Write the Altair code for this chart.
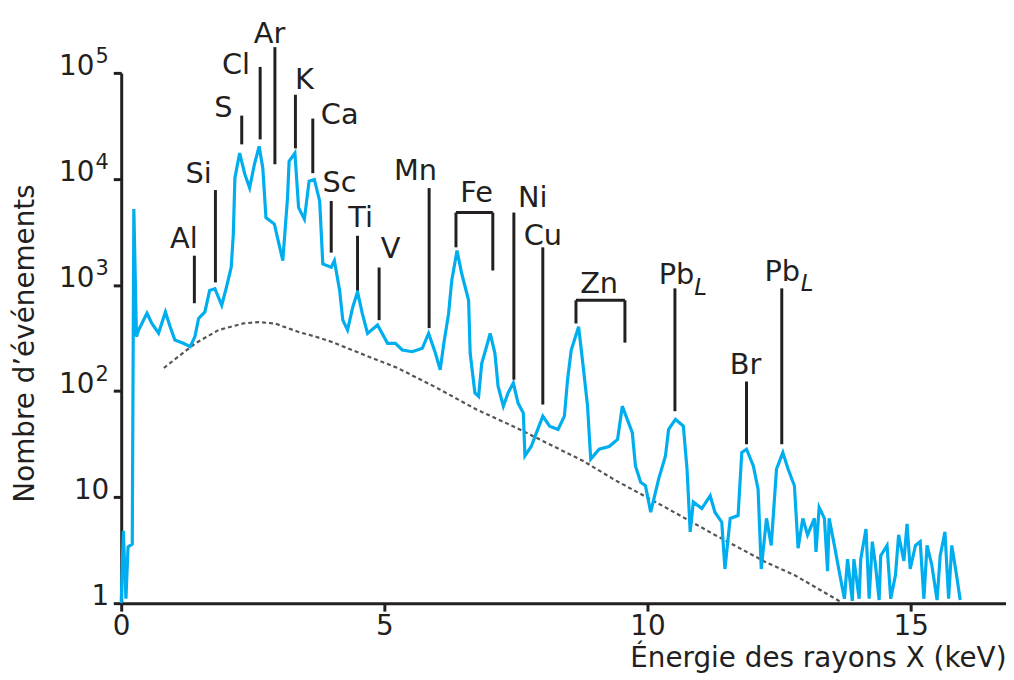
import altair as alt
import pandas as pd

# ---- spectrum (energy keV, counts) ----
spec_E = [0.00,0.04,0.09,0.13,0.21,0.24,0.29,0.33,0.49,0.58,0.71,0.84,0.93,1.02,1.18,1.31,1.40,1.47,1.59,1.68,
          1.78,1.91,2.00,2.09,2.13,2.16,2.25,2.35,2.44,2.53,2.62,2.69,2.75,2.91,3.07,3.16,3.19,3.30,3.37,3.48,
          3.57,3.67,3.77,3.83,3.99,4.05,4.15,4.21,4.30,4.40,4.49,4.58,4.68,4.87,5.06,5.21,5.34,5.53,5.72,5.84,
          5.97,6.06,6.13,6.22,6.28,6.38,6.47,6.60,6.63,6.72,6.79,6.85,6.94,7.01,7.10,7.16,7.26,7.35,7.45,7.54,
          7.64,7.67,7.79,7.89,8.01,8.14,8.30,8.42,8.48,8.55,8.69,8.77,8.86,8.92,9.08,9.27,9.43,9.52,9.71,9.77,
          9.87,9.96,10.06,10.21,10.34,10.40,10.53,10.68,10.75,10.81,10.87,11.03,11.19,11.28,11.41,11.47,11.57,
          11.72,11.79,11.88,12.01,12.10,12.16,12.26,12.35,12.45,12.57,12.67,12.79,12.86,12.95,13.04,13.17,13.20,
          13.26,13.36,13.42,13.45,13.55,13.64,13.74,13.80,13.89,13.92,14.02,14.05,14.15,14.21,14.27,14.33,14.40,
          14.43,14.55,14.62,14.71,14.77,14.87,14.93,14.99,15.09,15.18,15.25,15.31,15.40,15.50,15.56,15.65,15.72,
          15.78,15.87,15.94]
spec_c = [1.0,4.8,1.1,3.4,3.6,5200,325,376,542,437,352,557,404,303,282,262,325,484,557,890,
          923,644,956,1472,3020,10240,17550,11020,8260,13670,20280,12700,4320,3750,1700,6650,14680,17550,5360,4180,
          9530,9890,6200,1582,1472,1700,890,466,376,621,859,539,350,419,282,282,244,235,253,350,
          227,159,282,539,1104,2110,1276,718,227,96,89,183,262,350,227,111,72,96,119,77,
          62,24.5,30,40.5,58,46.7,43.5,58,128,244,404,183,72,22.8,28.3,30,35,72,40.5,19.7,
          13.8,12.8,7.2,14.8,24.5,43.5,54,46.7,18.4,4.7,9.0,7.8,10.3,7.2,5.8,2.1,6.3,
          6.7,26.3,28.3,19.7,11.9,2.1,6.3,3.5,18.4,26.3,18.4,12.8,3.3,6.3,4.4,6.3,3.05,
          8.0,6.3,2.0,6.3,3.5,2.0,1.1,2.6,1.05,2.6,1.1,2.6,5.0,1.1,3.8,2.3,1.07,
          2.8,3.5,1.1,1.84,4.4,2.5,5.6,2.1,3.5,3.8,1.1,3.5,2.3,1.07,2.8,4.7,1.1,
          3.5,1.84,1.07]

# ---- background (bremsstrahlung) curve ----
bg_E = [0.81,1.41,1.85,2.32,2.60,2.92,3.36,3.70,3.99,4.62,5.25,6.00,6.75,7.51,8.01,8.77,9.40,10.34,11.28,12.23,12.79,13.61,13.70]
bg_c = [165,282,376,434,447,434,362,325,292,219,165,107,67,45,33.8,22,14.3,8.0,4.4,2.46,1.84,1.07,1.0]

# ---- element labels ----
elem_labels = ["Al","Si","S","Cl","Ar","K","Ca","Sc","Ti","V","Mn","Fe","Ni","Cu","Zn","Br"]
elem_label_E = [1.19,1.47,1.94,2.18,2.82,3.48,4.15,4.15,4.55,5.12,5.59,6.75,7.82,8.01,9.08,11.86]
elem_label_c = [2730,11090,47000,118800,231900,85900,40450,9140,4295,2200,11830,7410,6650,2913,1028,177]

pb_E = [10.55, 12.56]
pb_c = [1230, 1312]
pbsub_E = [11.01, 13.03]
pbsub_c = [930, 1013]

# ---- element marker lines ----
line_E = [1.39,1.79,2.29,2.64,2.92,3.31,3.64,3.99,4.49,4.90,5.85,7.46,8.01,10.52,11.88,12.55]
line_top = [1890,7850,39550,113800,175000,62200,37070,6200,2913,1462,8200,4820,2265,930,123,930]
line_bot = [673,1057,21180,23600,13760,19420,11330,2020,890,466,392,128,74.6,64.6,31.5,31.5]

# ---- brackets (Fe, Zn) ----
br_left = [6.36, 8.64]
br_right = [7.06, 9.57]
br_top = [4820, 718]
br_left_bot = [2265, 434]
br_right_bot = [1370, 286]

# ---- y tick labels ----
ytick_plain = [1, 10]
ytick_plain_txt = ["1", "10"]
ytick_sup = [100, 1000, 10000, 100000]
ytick_sup_txt = ["2", "3", "4", "5"]

FONT = "DejaVu Sans"
INK = "#231f20"
BLUE = "#00AEEF"

spec = pd.DataFrame({"E": spec_E, "c": spec_c, "i": range(len(spec_E))})
bg = pd.DataFrame({"E": bg_E, "c": bg_c})
lab = pd.DataFrame({"t": elem_labels, "E": elem_label_E, "c": elem_label_c})
pb = pd.DataFrame({"t": ["Pb"] * 2, "E": pb_E, "c": pb_c})
pbs = pd.DataFrame({"t": ["L"] * 2, "E": pbsub_E, "c": pbsub_c})

segs = []
for e, t, b in zip(line_E, line_top, line_bot):
    segs.append({"x": e, "x2": e, "y": b, "y2": t})
for l, r, t, lb, rb in zip(br_left, br_right, br_top, br_left_bot, br_right_bot):
    segs.append({"x": l, "x2": r, "y": t, "y2": t})
    segs.append({"x": l, "x2": l, "y": lb, "y2": t})
    segs.append({"x": r, "x2": r, "y": rb, "y2": t})
segs = pd.DataFrame(segs)

yp = pd.DataFrame({"v": ytick_plain, "t": ytick_plain_txt})
ys = pd.DataFrame({"v": ytick_sup, "b": ["10"] * 4, "s": ytick_sup_txt})

xscale = alt.Scale(domain=[0, 16.81], nice=False, zero=False)
yscale = alt.Scale(type="log", domain=[1, 100000], nice=False)

xaxis = alt.Axis(values=[0, 5, 10, 15], grid=False, labelFont=FONT, labelFontSize=28, labelColor=INK,
                 labelPadding=2, labelFlush=False, tickSize=8, tickWidth=3, tickColor=INK, domainWidth=3,
                 domainColor=INK,
                 title="Énergie des rayons X (keV)", titleFont=FONT, titleFontSize=28, titleFontWeight="normal",
                 titleColor=INK, titleX=891, titleY=64, titleAlign="right", titleBaseline="alphabetic")
yaxis = alt.Axis(values=[1, 10, 100, 1000, 10000, 100000], labels=False, grid=False, tickSize=8, tickWidth=3,
                 tickColor=INK, domainWidth=3, domainColor=INK,
                 title="Nombre d’événements", titleFont=FONT, titleFontSize=28, titleFontWeight="normal",
                 titleColor=INK, titleX=-96, titleY=272, titleAngle=270, titleAlign="center",
                 titleBaseline="middle")

bg_layer = alt.Chart(bg).mark_line(color="#555555", strokeWidth=2.2, strokeDash=[4, 3]).encode(
    x=alt.X("E:Q", scale=xscale, axis=xaxis),
    y=alt.Y("c:Q", scale=yscale, axis=yaxis),
)
spec_layer = alt.Chart(spec).mark_line(color=BLUE, strokeWidth=3.2, strokeJoin="miter").encode(
    x=alt.X("E:Q", scale=xscale),
    y=alt.Y("c:Q", scale=yscale),
    order="i:Q",
)
rule_layer = alt.Chart(segs).mark_rule(color=INK, strokeWidth=3).encode(
    x=alt.X("x:Q", scale=xscale), x2="x2:Q",
    y=alt.Y("y:Q", scale=yscale), y2="y2:Q",
)
text_layer = alt.Chart(lab).mark_text(font=FONT, fontSize=29, color=INK, baseline="middle", align="center").encode(
    x=alt.X("E:Q", scale=xscale), y=alt.Y("c:Q", scale=yscale), text="t:N")
pb_layer = alt.Chart(pb).mark_text(font=FONT, fontSize=29, color=INK, baseline="middle", align="center").encode(
    x=alt.X("E:Q", scale=xscale), y=alt.Y("c:Q", scale=yscale), text="t:N")
pbs_layer = alt.Chart(pbs).mark_text(font=FONT, fontSize=23, fontStyle="italic", color=INK,
                                     baseline="middle", align="center").encode(
    x=alt.X("E:Q", scale=xscale), y=alt.Y("c:Q", scale=yscale), text="t:N")

yp_layer = alt.Chart(yp).mark_text(font=FONT, fontSize=28, color=INK, align="right", baseline="alphabetic",
                                   dy=2).encode(x=alt.value(-12), y=alt.Y("v:Q", scale=yscale), text="t:N")
ysb_layer = alt.Chart(ys).mark_text(font=FONT, fontSize=28, color=INK, align="right", baseline="alphabetic",
                                    dy=2).encode(x=alt.value(-27), y=alt.Y("v:Q", scale=yscale), text="b:N")
yss_layer = alt.Chart(ys).mark_text(font=FONT, fontSize=21, color=INK, align="left", baseline="alphabetic",
                                    dy=-10).encode(x=alt.value(-26), y=alt.Y("v:Q", scale=yscale), text="s:N")

chart = alt.layer(bg_layer, spec_layer, rule_layer, text_layer, pb_layer, pbs_layer,
                  yp_layer, ysb_layer, yss_layer).properties(
    width=891, height=534,
    padding={"left": 114, "top": 63, "right": 0, "bottom": 70},
    autosize=alt.AutoSizeParams(type="none"),
).configure(background="white").configure_view(stroke=None)

chart.save("out.html", embed_options={"renderer": "svg", "actions": False})
